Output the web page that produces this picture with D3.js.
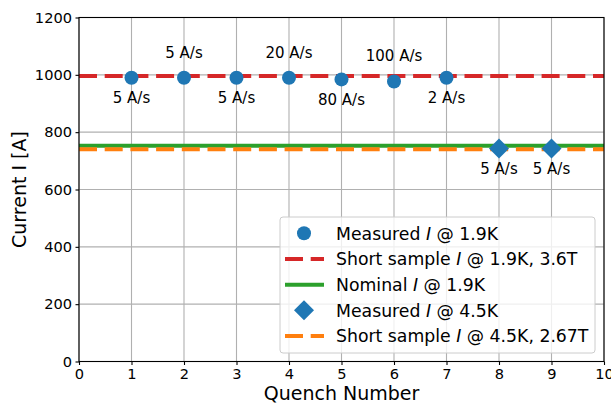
<!DOCTYPE html>
<html>
<head>
<meta charset="utf-8">
<script src="https://cdn.jsdelivr.net/npm/d3@7"></script>
<style>
  body { margin: 0; background: #fff; }
  svg text { font-family: "DejaVu Sans", sans-serif; fill: #000; }
</style>
</head>
<body>
<svg id="chart" width="611" height="404"></svg>
<script>
/* Quench test data */
var quench19 = [1, 2, 3, 4, 5, 6, 7];
var current19 = [990, 990, 990, 990, 984, 977, 990];
var rate19 = ["5 A/s", "5 A/s", "5 A/s", "20 A/s", "80 A/s", "100 A/s", "2 A/s"];
var labelAbove19 = [false, true, false, true, false, true, false];

var quench45 = [8, 9];
var current45 = [743, 743];
var rate45 = ["5 A/s", "5 A/s"];

var shortSample19 = 996;
var nominal19 = 753;
var shortSample45 = 740;

var xTicks = [0, 1, 2, 3, 4, 5, 6, 7, 8, 9, 10];
var yTicks = [0, 200, 400, 600, 800, 1000, 1200];

var legendLabels = [
    ["Measured ", "I", " @ 1.9K"],
    ["Short sample ", "I", " @ 1.9K, 3.6T"],
    ["Nominal ", "I", " @ 1.9K"],
    ["Measured ", "I", " @ 4.5K"],
    ["Short sample ", "I", " @ 4.5K, 2.67T"]
];

var BLUE = "#1f77b4", RED = "#d62728", GREEN = "#2ca02c", ORANGE = "#ff7f0e";

var svg = d3.select("#chart"),
    margin = { top: 17.5, right: 7, bottom: 42.5, left: 79 },
    width = +svg.attr("width") - margin.left - margin.right,
    height = +svg.attr("height") - margin.top - margin.bottom;

var x = d3.scaleLinear().domain([0, 10]).range([0, width]),
    y = d3.scaleLinear().domain([0, 1200]).range([height, 0]);

var g = svg.append("g")
    .attr("transform", "translate(" + margin.left + "," + margin.top + ")");

// grid
g.append("g").selectAll("line").data(xTicks).enter().append("line")
    .attr("x1", function (d) { return x(d); }).attr("x2", function (d) { return x(d); })
    .attr("y1", 0).attr("y2", height)
    .attr("stroke", "#b0b0b0").attr("stroke-width", 1.1);
g.append("g").selectAll("line").data(yTicks).enter().append("line")
    .attr("y1", function (d) { return y(d); }).attr("y2", function (d) { return y(d); })
    .attr("x1", 0).attr("x2", width)
    .attr("stroke", "#b0b0b0").attr("stroke-width", 1.1);

// axes
var xAxis = g.append("g")
    .attr("transform", "translate(0," + height + ")")
    .call(d3.axisBottom(x).tickValues(xTicks).tickFormat(d3.format("d")).tickSize(3.5).tickPadding(3.5));
var yAxis = g.append("g")
    .call(d3.axisLeft(y).tickValues(yTicks).tickFormat(d3.format("d")).tickSize(3.5).tickPadding(3.5));
[xAxis, yAxis].forEach(function (a) {
    a.select(".domain").remove();
    a.selectAll("line").attr("stroke", "#000").attr("stroke-width", 1.1);
    a.selectAll("text").style("font-size", "14.6px").style("font-family", "DejaVu Sans");
});

// reference lines
var refLines = [
    { v: shortSample19, color: RED, dash: "18,7.7" },
    { v: nominal19, color: GREEN, dash: null },
    { v: shortSample45, color: ORANGE, dash: "18,7.7" }
];
refLines.forEach(function (r) {
    g.append("line")
        .attr("x1", 0).attr("x2", width)
        .attr("y1", y(r.v)).attr("y2", y(r.v))
        .attr("stroke", r.color).attr("stroke-width", 4)
        .attr("stroke-dasharray", r.dash);
});

// measured points
g.selectAll(".pt19").data(quench19).enter().append("circle")
    .attr("class", "pt19")
    .attr("cx", function (d) { return x(d); })
    .attr("cy", function (d, i) { return y(current19[i]); })
    .attr("r", 7).attr("fill", BLUE);

var diamond = d3.symbol().type(d3.symbolSquare).size(200);
g.selectAll(".pt45").data(quench45).enter().append("path")
    .attr("class", "pt45")
    .attr("d", diamond)
    .attr("transform", function (d, i) {
        return "translate(" + x(d) + "," + y(current45[i]) + ") rotate(45)";
    })
    .attr("fill", BLUE);

// ramp rate annotations
g.selectAll(".lab19").data(quench19).enter().append("text")
    .attr("x", function (d) { return x(d); })
    .attr("y", function (d, i) { return y(current19[i]) + (labelAbove19[i] ? -20 : 25.5); })
    .attr("text-anchor", "middle").style("font-size", "15px")
    .text(function (d, i) { return rate19[i]; });
g.selectAll(".lab45").data(quench45).enter().append("text")
    .attr("x", function (d) { return x(d); })
    .attr("y", function (d, i) { return y(current45[i]) + 25.5; })
    .attr("text-anchor", "middle").style("font-size", "15px")
    .text(function (d, i) { return rate45[i]; });

// spines
g.append("rect").attr("x", 0).attr("y", 0).attr("width", width).attr("height", height)
    .attr("fill", "none").attr("stroke", "#000").attr("stroke-width", 1.1);

// axis titles
svg.append("text")
    .attr("x", margin.left + width / 2).attr("y", 400)
    .attr("text-anchor", "middle").style("font-size", "19px")
    .text("Quench Number");
svg.append("text")
    .attr("transform", "translate(26," + (margin.top + height / 2) + ") rotate(-90)")
    .attr("text-anchor", "middle").style("font-size", "19px")
    .text("Current I [A]");

// legend
var leg = svg.append("g").attr("transform", "translate(280,217)");
leg.append("rect").attr("width", 315).attr("height", 136).attr("rx", 3)
    .attr("fill", "#fff").attr("fill-opacity", 0.8)
    .attr("stroke", "#cccccc").attr("stroke-width", 1);
var rowY = d3.scaleLinear().domain([0, 4]).range([16.3, 119]);
var handles = [
    { type: "circle" }, { type: "line", color: RED, dash: "18,7.7" },
    { type: "line", color: GREEN, dash: null }, { type: "diamond" },
    { type: "line", color: ORANGE, dash: "18,7.7" }
];
handles.forEach(function (h, i) {
    var cy = rowY(i);
    if (h.type === "circle") {
        leg.append("circle").attr("cx", 24).attr("cy", cy).attr("r", 7).attr("fill", BLUE);
    } else if (h.type === "diamond") {
        leg.append("path").attr("d", diamond)
            .attr("transform", "translate(24," + cy + ") rotate(45)").attr("fill", BLUE);
    } else {
        leg.append("line").attr("x1", 5).attr("x2", 44).attr("y1", cy).attr("y2", cy)
            .attr("stroke", h.color).attr("stroke-width", 4).attr("stroke-dasharray", h.dash);
    }
    var t = leg.append("text").attr("x", 56).attr("y", cy + 6.3).style("font-size", "17.3px");
    legendLabels[i].forEach(function (part, j) {
        t.append("tspan").style("font-style", j === 1 ? "italic" : "normal").text(part);
    });
});
</script>
</body>
</html>
